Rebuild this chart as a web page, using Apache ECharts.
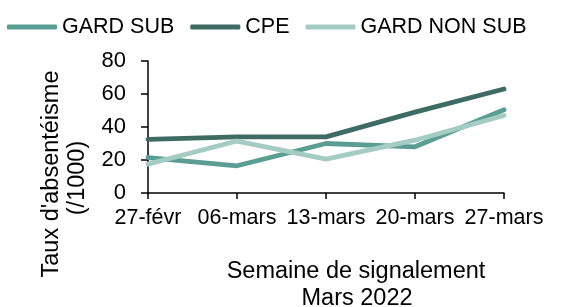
<!DOCTYPE html>
<html>
<head>
<meta charset="utf-8">
<script src="https://cdn.jsdelivr.net/npm/echarts@6/dist/echarts.min.js"></script>
<style>
html,body{margin:0;padding:0;background:#fff;}
#c{width:569px;height:307px;}
</style>
</head>
<body>
<div id="c"></div>
<script>
var categories = ['27-févr', '06-mars', '13-mars', '20-mars', '27-mars'];
var gardSub = [21.5, 16.5, 30, 28, 50.5];
var cpe = [32.5, 34, 34, 49, 63];
var gardNonSub = [17.5, 31.5, 20.5, 32, 47];
var yTicks = [0, 20, 40, 60, 80];
var seriesNames = ['GARD SUB', 'CPE', 'GARD NON SUB'];
var colors = ['#5a9d93', '#3e6b63', '#a4ccc3'];

var font = '"Liberation Sans", Arial, Helvetica, sans-serif';
var chart = echarts.init(document.getElementById('c'), null, {renderer: 'canvas'});
function mk(name, data, color) {
  return {
    name: name, type: 'line', data: data, symbol: 'none', showSymbol: false,
    lineStyle: {color: color, width: 4.8, cap: 'round', join: 'round'},
    itemStyle: {color: color}
  };
}
chart.setOption({
  animation: false,
  textStyle: {fontFamily: font},
  color: colors,
  legend: {
    left: 2, top: 11,
    itemWidth: 50, itemHeight: 5, itemGap: 16,
    icon: 'roundRect',
    textStyle: {fontFamily: font, fontSize: 21.5, color: '#000'},
    data: seriesNames
  },
  grid: {left: 148, right: 65, top: 61, bottom: 114, containLabel: false},
  xAxis: {
    type: 'category', data: categories, boundaryGap: false,
    axisLine: {lineStyle: {color: '#000', width: 1.5}},
    axisTick: {show: true, length: 6, lineStyle: {color: '#000', width: 1.5}, alignWithLabel: true},
    axisLabel: {fontFamily: font, fontSize: 21.5, color: '#000', margin: 14, interval: 0},
    splitLine: {show: false}
  },
  yAxis: {
    type: 'value', min: yTicks[0], max: yTicks[yTicks.length - 1], interval: 20,
    axisLine: {show: true, lineStyle: {color: '#000', width: 1.5}},
    axisTick: {show: true, length: 7, lineStyle: {color: '#000', width: 1.5}},
    axisLabel: {fontFamily: font, fontSize: 22, color: '#000', margin: 22},
    splitLine: {show: false}
  },
  graphic: [
    {
      type: 'text', x: 52, y: 174, rotation: Math.PI / 2,
      style: {text: "Taux d'absentéisme", fontFamily: font, fontSize: 23.5,
        fill: '#000', align: 'center', verticalAlign: 'middle'}
    },
    {
      type: 'text', x: 78, y: 178, rotation: Math.PI / 2,
      style: {text: "(/1000)", fontFamily: font, fontSize: 23.5,
        fill: '#000', align: 'center', verticalAlign: 'middle'}
    },
    {
      type: 'text', x: 356, y: 260,
      style: {text: 'Semaine de signalement', fontFamily: font, fontSize: 23.5,
        fill: '#000', align: 'center', verticalAlign: 'top'}
    },
    {
      type: 'text', x: 357, y: 287,
      style: {text: 'Mars 2022', fontFamily: font, fontSize: 23.5,
        fill: '#000', align: 'center', verticalAlign: 'top'}
    }
  ],
  series: [
    mk(seriesNames[0], gardSub, colors[0]),
    mk(seriesNames[1], cpe, colors[1]),
    mk(seriesNames[2], gardNonSub, colors[2])
  ]
});
</script>
</body>
</html>
